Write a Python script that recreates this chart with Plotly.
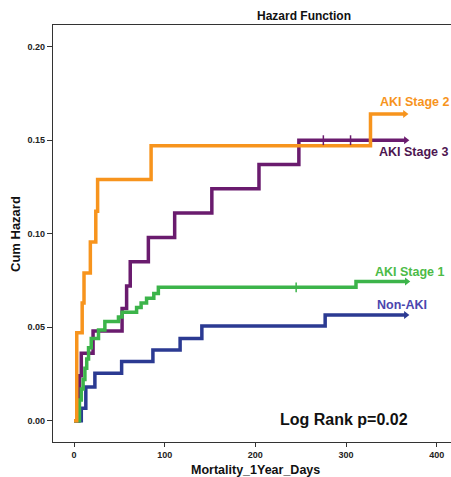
import plotly.graph_objects as go

# ---- data ----
days_aki2 = [0, 3, 9, 11, 18, 24, 26, 85, 327, 365]
haz_aki2 = [0, 0.047, 0.063, 0.079, 0.0955, 0.112, 0.129, 0.147, 0.164, 0.164]

days_aki3 = [0, 5, 6, 8, 21, 53, 58, 62, 82, 111, 152, 204, 248, 366]
haz_aki3 = [0, 0.012, 0.024, 0.036, 0.048, 0.060, 0.072, 0.085, 0.098, 0.111, 0.124, 0.137, 0.150, 0.150]

days_aki1 = [0, 6, 8, 10, 12, 14, 16, 19, 27, 34, 49, 53, 69, 74, 80, 88, 93, 311, 367]
haz_aki1 = [0, 0.011, 0.017, 0.022, 0.028, 0.033, 0.039, 0.044, 0.0485, 0.053, 0.0555, 0.058,
            0.0605, 0.063, 0.0655, 0.068, 0.0713, 0.0744, 0.0744]

days_non = [0, 8, 13, 23, 52.5, 87, 117, 141, 277, 366]
haz_non = [0, 0.0066, 0.018, 0.0253, 0.0316, 0.0378, 0.044, 0.0506, 0.0565, 0.0565]

cens_aki3_days = [275, 305]
cens_aki3_haz = [0.150, 0.150]
cens_aki1_days = [245]
cens_aki1_haz = [0.0713]

x_ticks = [0, 100, 200, 300, 400]
y_ticks = [0.00, 0.05, 0.10, 0.15, 0.20]
y_ticklabels = ["0.00", "0.05", "0.10", "0.15", "0.20"]

series = [
    ("Non-AKI", days_non, haz_non, "#2B3A92", "#4B46AE"),
    ("AKI Stage 3", days_aki3, haz_aki3, "#6A1B6E", "#4D1650"),
    ("AKI Stage 1", days_aki1, haz_aki1, "#3CB44A", "#4CBB47"),
    ("AKI Stage 2", days_aki2, haz_aki2, "#F7941D", "#F7941D"),
]

fig = go.Figure()
for name, d, h, col, _ in series:
    fig.add_trace(go.Scatter(x=d, y=h, mode="lines", line=dict(color=col, width=3.5, shape="hv"),
                             name=name, showlegend=False, hoverinfo="skip"))
    fig.add_trace(go.Scatter(x=[d[-1]], y=[h[-1]], mode="markers",
                             marker=dict(symbol="triangle-right", size=7, color=col),
                             showlegend=False, hoverinfo="skip"))

fig.add_trace(go.Scatter(x=cens_aki3_days, y=cens_aki3_haz, mode="markers",
                         marker=dict(symbol="line-ns", size=7, line=dict(color="#6A1B6E", width=1.5)),
                         showlegend=False, hoverinfo="skip"))
fig.add_trace(go.Scatter(x=cens_aki1_days, y=cens_aki1_haz, mode="markers",
                         marker=dict(symbol="line-ns", size=7, line=dict(color="#3CB44A", width=1.5)),
                         showlegend=False, hoverinfo="skip"))

L, R, T, B = 53, 451, 25, 442
W, H = 451, 477


def px(x):
    return (x - L) / (R - L)


def py(y):
    return (B - y) / (B - T)


font = "Arial, Liberation Sans, sans-serif"
ann = [
    dict(text="Hazard Function", x=px(304), y=py(16), size=12, color="#111", xanchor="center"),
    dict(text="Log Rank p=0.02", x=px(343.5), y=py(419), size=16, color="#111", xanchor="center"),
    dict(text="AKI Stage 2", x=px(378), y=py(102), size=12.5, color="#F7941D", xanchor="left"),
    dict(text="AKI Stage 3", x=px(377), y=py(152), size=12.5, color="#4D1650", xanchor="left"),
    dict(text="AKI Stage 1", x=px(373), y=py(272), size=12.5, color="#4CBB47", xanchor="left"),
    dict(text="Non-AKI", x=px(375), y=py(305), size=12.5, color="#4B46AE", xanchor="left"),
    dict(text="Mortality_1Year_Days", x=px(255.5), y=py(470), size=12.5, color="#111", xanchor="center"),
]
for a in ann:
    fig.add_annotation(text=a["text"], x=a["x"], y=a["y"], xref="paper", yref="paper",
                       xanchor=a["xanchor"], yanchor="middle", showarrow=False,
                       font=dict(family=font, size=a["size"], color=a["color"], weight="bold"))
fig.add_annotation(text="Cum Hazard", x=px(15), y=py(234), xref="paper", yref="paper",
                   xanchor="center", yanchor="middle", showarrow=False, textangle=-90,
                   font=dict(family=font, size=13, color="#111", weight="bold"))

fig.update_layout(
    width=W, height=H,
    margin=dict(l=L, r=W - R, t=T, b=H - B),
    paper_bgcolor="white", plot_bgcolor="white",
    xaxis=dict(range=[-23.2, 415.8], tickvals=x_ticks, showgrid=False, zeroline=False,
               showline=True, mirror=True, linecolor="#333", linewidth=1.3,
               ticks="outside", ticklen=4, tickcolor="#333",
               tickfont=dict(family=font, size=9, color="#222", weight="bold")),
    yaxis=dict(range=[-0.0114, 0.2116], tickvals=y_ticks, ticktext=y_ticklabels,
               showgrid=False, zeroline=False,
               showline=True, mirror=False, linecolor="#333", linewidth=1.3,
               ticks="outside", ticklen=5, tickcolor="#333",
               tickfont=dict(family=font, size=9, color="#222", weight="bold")),
)

fig.write_html("out.html", config={"displayModeBar": False},
               post_script="document.body.style.margin='0';document.body.style.overflow='hidden';")
